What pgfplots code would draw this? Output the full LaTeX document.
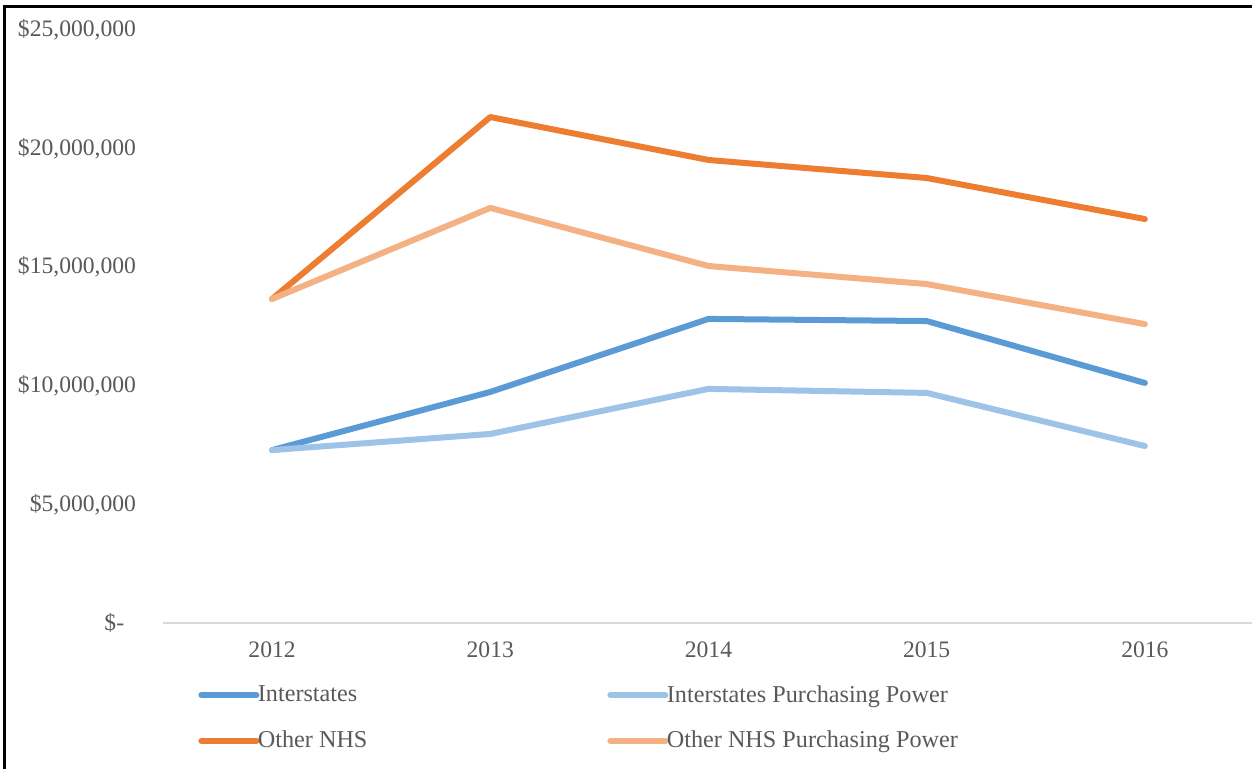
\documentclass[border=0pt]{standalone}
\usepackage{fontspec}
\setmainfont{Liberation Serif}
\usepackage{pgfplots}
\pgfplotsset{compat=1.18}
\definecolor{txt}{HTML}{595959}
\definecolor{cI}{HTML}{5B9BD5}
\definecolor{cIP}{HTML}{9DC3E6}
\definecolor{cO}{HTML}{ED7D31}
\definecolor{cOP}{HTML}{F4B183}
\definecolor{axgray}{HTML}{D9D9D9}
\begin{document}
\begin{tikzpicture}[font=\fontsize{11.8bp}{14bp}\selectfont]
\useasboundingbox (-81.5bp,-73bp) rectangle (544.5bp,311.5bp);
\begin{axis}[
  at={(0,0)}, anchor=south west,
  scale only axis, width=545.5bp, height=296.5bp,
  xmin=-0.5, xmax=4.5, ymin=0, ymax=25000000,
  scaled y ticks=false,
  xtick={0,1,2,3,4}, xticklabels={2012,2013,2014,2015,2016},
  ytick={0,5000000,10000000,15000000,20000000,25000000},
  yticklabels={{\$-\hphantom{0}},{\$5,000,000},{\$10,000,000},{\$15,000,000},{\$20,000,000},{\$25,000,000}},
  axis lines=left,
  axis line style={-},
  y axis line style={draw=none},
  x axis line style={draw=axgray, line width=1bp},
  major tick length=0pt,
  ticklabel style={text=txt},
  yticklabel style={xshift=-10bp},
  xticklabel style={yshift=-6bp},
  legend columns=2,
  legend cell align=left,
  legend image code/.code={\draw[#1, line cap=round] (0bp,0bp) -- (27.5bp,0bp);},
  legend style={draw=none, fill=none, at={(0.0266,-0.095)}, anchor=north west,
    text=txt, font=\fontsize{12.1bp}{14bp}\selectfont, nodes={inner sep=0.75bp}, row sep=11.5bp,
    /tikz/every odd column/.append style={column sep=-1.5bp},
    /tikz/every even column/.append style={column sep=0bp}},
  every axis plot/.append style={line width=3bp, line cap=round, line join=round},
]
\addplot[cI] coordinates {(0,7290000) (1,9740000) (2,12820000) (3,12730000) (4,10120000)};
\addlegendentry{\makebox[174bp][l]{Interstates}}
\addplot[cIP] coordinates {(0,7290000) (1,7970000) (2,9870000) (3,9700000) (4,7460000)};
\addlegendentry{Interstates Purchasing Power}
\addplot[cO] coordinates {(0,13660000) (1,21330000) (2,19520000) (3,18760000) (4,17030000)};
\addlegendentry{\makebox[174bp][l]{Other NHS}}
\addplot[cOP] coordinates {(0,13660000) (1,17500000) (2,15050000) (3,14290000) (4,12600000)};
\addlegendentry{Other NHS Purchasing Power}
\end{axis}
\draw[line width=1.5bp] (-79bp,-80bp) -- (-79bp,308bp) -- (560bp,308bp);
\end{tikzpicture}
\end{document}
